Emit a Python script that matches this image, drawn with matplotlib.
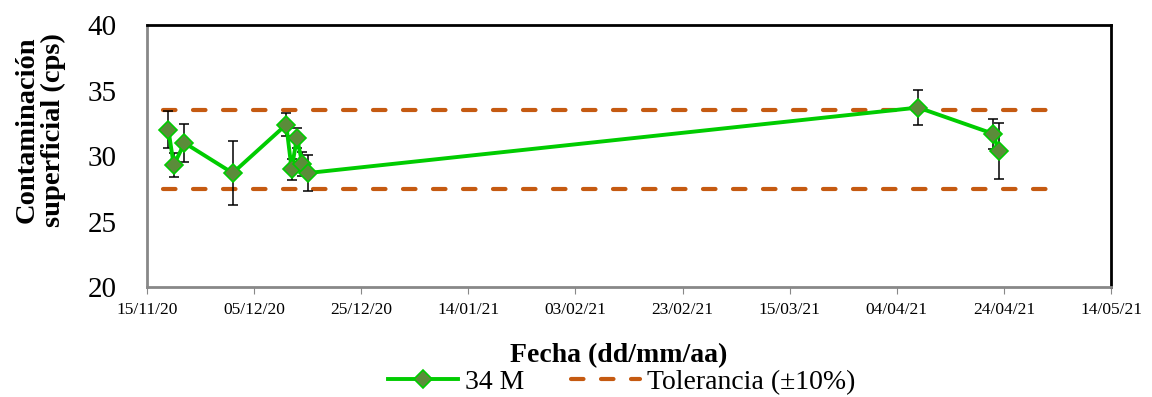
import matplotlib
matplotlib.use("Agg")
import matplotlib.pyplot as plt
import matplotlib.dates as mdates
import pandas as pd

plt.rcParams['font.family'] = ['Liberation Serif', 'DejaVu Serif']

# data
fechas = ['19/11/2020', '20/11/2020', '22/11/2020', '01/12/2020', '11/12/2020',
          '12/12/2020', '13/12/2020', '14/12/2020', '15/12/2020',
          '08/04/2021', '22/04/2021', '23/04/2021']
valores = [32.0, 29.3, 31.0, 28.7, 32.4, 29.0, 31.4, 29.4, 28.7, 33.7, 31.7, 30.4]
errores = [1.4, 0.9, 1.45, 2.45, 0.9, 0.8, 0.75, 0.9, 1.35, 1.37, 1.15, 2.15]

tol_fechas = ['18/11/2020', '02/05/2021']
tol_sup = 33.55
tol_inf = 27.5

ticks = pd.date_range('2020-11-15', '2021-05-14', freq='20D')

x = pd.to_datetime(fechas, dayfirst=True)
xt = pd.to_datetime(tol_fechas, dayfirst=True)

fig = plt.figure(figsize=(11.52, 3.97), dpi=100)
ax = fig.add_axes([0.1276, 0.277, 0.9644 - 0.1276, 0.937 - 0.277])

naranja = '#C55A11'
ax.plot(xt, [tol_sup, tol_sup], color=naranja, lw=3, linestyle=(0, (3.0, 4.2)),
        dash_capstyle='round', zorder=2, label='Tolerancia (±10%)')
ax.plot(xt, [tol_inf, tol_inf], color=naranja, lw=3, linestyle=(0, (3.0, 4.2)),
        dash_capstyle='round', zorder=2)

ax.errorbar(x, valores, yerr=errores, fmt='none', ecolor='black', elinewidth=1.1,
            capsize=3.5, capthick=1.1, zorder=3)
ax.plot(x, valores, color='#00CC00', lw=2.8, marker='D', markersize=9,
        markerfacecolor='#5B8C3A', markeredgecolor='#00CC00', markeredgewidth=1.2,
        zorder=4, label='34 M')

ax.set_ylim(20, 40)
ax.set_yticks([20, 25, 30, 35, 40])
ax.set_xlim(ticks[0], ticks[-1])
ax.set_xticks(ticks)
ax.xaxis.set_major_formatter(mdates.DateFormatter('%d/%m/%y'))

ax.tick_params(axis='y', length=0, pad=22, labelsize=21)
ax.tick_params(axis='x', length=5, color='#888888', pad=6, labelsize=12.5)

for s in ['top', 'right']:
    ax.spines[s].set_color('black')
    ax.spines[s].set_linewidth(2)
for s in ['left', 'bottom']:
    ax.spines[s].set_color('#888888')
    ax.spines[s].set_linewidth(2)

fig.text(40 / 1152, 1 - 130 / 397, 'Contaminación\nsuperficial (cps)', rotation=90,
         ha='center', va='center', fontsize=20.5, fontweight='bold', linespacing=1.05)
fig.text(619 / 1152, 1 - 356 / 397, 'Fecha (dd/mm/aa)', ha='center', va='center',
         fontsize=20, fontweight='bold')

h, l = ax.get_legend_handles_labels()
fig.legend([h[1], h[0]], [l[1], l[0]], loc='center', bbox_to_anchor=(622 / 1152, 1 - 382 / 397),
           ncol=2, frameon=False, fontsize=20, handlelength=2.5, handletextpad=0.25,
           columnspacing=1.7, borderpad=0, borderaxespad=0)

fig.savefig('out.png', dpi=100)
